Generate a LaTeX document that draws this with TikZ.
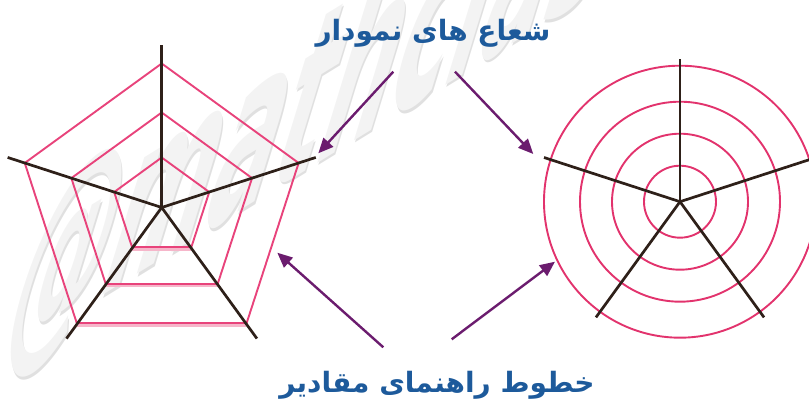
\documentclass[tikz,border=0pt]{standalone}
\usepackage{fontspec}
\usetikzlibrary{arrows.meta}
\TeXXeTstate=1
\newfontfamily\arabicfont[Script=Arabic]{DejaVu Sans}
\newfontfamily\wmfont{DejaVu Sans}
\definecolor{webpink}{HTML}{E8437B}
\definecolor{palepink}{HTML}{F6B6CA}
\definecolor{ringpink}{HTML}{E2336D}
\definecolor{spokebrown}{HTML}{2E2019}
\definecolor{arrowpurple}{HTML}{6B1C6E}
\definecolor{labelblue}{HTML}{1D5A9B}
\definecolor{wmfill}{HTML}{F3F3F3}
\definecolor{wmshadow}{HTML}{E0E0E0}
\begin{document}
\begin{tikzpicture}[x=1pt,y=1pt,
  gridline/.style={draw=webpink, line width=1.9pt, line join=miter},
  ringline/.style={draw=ringpink, line width=1.9pt},
  spokeline/.style={draw=spokebrown, line width=2.7pt},
  pointer/.style={draw=arrowpurple, line width=2.4pt, -{Triangle[length=15pt,width=13pt]}},
  titletext/.style={text=labelblue, font=\arabicfont\bfseries\fontsize{28}{32}\selectfont, inner sep=0pt},
  wmtext/.style={font=\wmfont\bfseries\fontsize{140}{140}\selectfont, inner sep=0pt, anchor=base west, transform shape}
]
\useasboundingbox (0,0) rectangle (809,401);
\begin{scope}
\clip (0,0) rectangle (809,401);
% watermark
\begin{scope}[cm={0.7,0.43,0.55,1.8,(-4,40)}]
  \node[wmtext, text=wmshadow] (wmshade) at (3,-2) {@mathclass};
  \node[wmtext, text=wmfill] (wm) at (0,0) {@mathclass};
\end{scope}
% left radar web
\coordinate (L) at (161.7,193.5);
\foreach \r in {50,95,144}{
  \draw[gridline, shift={(L)}] (-54:\r) -- (18:\r) -- (90:\r) -- (162:\r) -- (-126:\r);
  \draw[draw=palepink, line width=3.2pt, shift={(L)}, yshift=-1pt] (-54:\r) -- (-126:\r);
  \draw[draw=webpink, line width=2pt, shift={(L)}, yshift=0.6pt] (-54:\r) -- (-126:\r);
}
\foreach \a in {90,18,-54,-126,162}{
  \draw[spokeline] (L) -- ++(\a:162);
}
% right radar web
\coordinate (R) at (680,199.3);
\foreach \r in {36,68,100,136}{
  \draw[ringline] (R) circle[radius=\r];
}
\foreach \a in {90,18,-54,-126,162}{
  \draw[spokeline] (R) -- ++(\a:143);
}
\end{scope}
% labels
\node[titletext] (spokes) at (433,368) {\beginR شعاع های نمودار\endR};
\node[titletext] (guides) at (437,16) {\beginR خطوط راهنمای مقادیر\endR};
% pointer coordinates
\coordinate (s1) at (393.3,329.3);
\coordinate (t1) at (318.3,247.7);
\coordinate (s2) at (455,329.3);
\coordinate (t2) at (533.3,247);
\coordinate (s3) at (383.3,53.7);
\coordinate (t3) at (277.3,148.3);
\coordinate (s4) at (451.7,61.7);
\coordinate (t4) at (555,139.3);
\draw[pointer] (s1) -- (t1);
\draw[pointer] (s2) -- (t2);
\draw[pointer] (s3) -- (t3);
\draw[pointer] (s4) -- (t4);
\end{tikzpicture}
\end{document}
